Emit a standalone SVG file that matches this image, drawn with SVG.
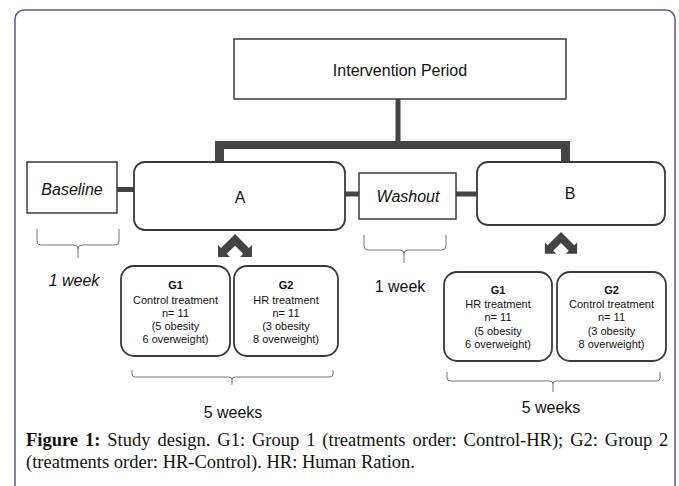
<svg xmlns="http://www.w3.org/2000/svg" width="679" height="486" viewBox="0 0 679 486">
<defs>
<style>
.box{fill:#fff;stroke:#3a3a3a;stroke-width:1.5}
.rbox{fill:#fff;stroke:#3a3a3a;stroke-width:1.8}
.t{font-family:"Liberation Sans",Arial,sans-serif;fill:#111;text-anchor:middle}
.big{font-size:16px}
.it{font-style:italic}
.sm{font-size:11px}
.b{font-weight:bold}
.conn{stroke:#444;fill:none;stroke-linecap:butt}
.brace{stroke:#777;stroke-width:1;fill:none}
.cap{font-family:"Liberation Serif","Times New Roman",serif;font-size:18.5px;fill:#111}
</style>
<polygon id="dbl" points="0,0 14,14 17,11 17,23 5,23 8.2,19.8 0,11.7 -8.2,19.8 -5,23 -17,23 -17,11 -14,14" fill="#444"/>
</defs>
<rect x="15" y="10" width="660" height="500" rx="9" ry="9" fill="#fff" stroke="#5b55a0" stroke-width="1.5"/>

<g id="connectors">
<line class="conn" x1="398" y1="99" x2="398" y2="141" stroke-width="5"/>
<line class="conn" x1="215" y1="145" x2="570" y2="145" stroke-width="8"/>
<line class="conn" x1="219.5" y1="141" x2="219.5" y2="162" stroke-width="9"/>
<line class="conn" x1="565.5" y1="141" x2="565.5" y2="162" stroke-width="9"/>
<line class="conn" x1="117" y1="189.5" x2="134" y2="189.5" stroke-width="5"/>
<line class="conn" x1="345" y1="194" x2="359" y2="194" stroke-width="5"/>
<line class="conn" x1="456" y1="194" x2="477" y2="194" stroke-width="5"/>
<use href="#dbl" transform="translate(235,234)"/>
<use href="#dbl" transform="translate(561,232) scale(0.95)"/>
</g>

<g id="intervention">
<rect class="box" x="234" y="39" width="332" height="60"/>
<text class="t big" x="400" y="76">Intervention Period</text>
</g>

<g id="baseline">
<rect class="box" x="27" y="162" width="90" height="51"/>
<text class="t big it" x="72" y="195">Baseline</text>
</g>

<g id="A">
<rect class="rbox" x="134" y="162" width="211" height="68" rx="11" ry="11"/>
<text class="t big" x="240" y="203">A</text>
</g>

<g id="washout">
<rect class="box" x="359" y="173" width="97" height="46"/>
<text class="t big it" x="408" y="202">Washout</text>
</g>

<g id="B">
<rect class="rbox" x="477" y="162" width="188" height="63" rx="11" ry="11"/>
<text class="t big" x="570" y="199">B</text>
</g>

<g id="A-G1">
<rect class="rbox" x="121" y="266" width="109" height="90" rx="13" ry="13"/>
<text class="t sm b" x="175.5" y="289">G1</text>
<text class="t sm" x="175.5" y="303.5">Control treatment</text>
<text class="t sm" x="175.5" y="317">n= 11</text>
<text class="t sm" x="175.5" y="330">(5 obesity</text>
<text class="t sm" x="175.5" y="343">6 overweight)</text>
</g>

<g id="A-G2">
<rect class="rbox" x="234" y="266" width="104" height="90" rx="13" ry="13"/>
<text class="t sm b" x="286" y="289">G2</text>
<text class="t sm" x="286" y="303.5">HR treatment</text>
<text class="t sm" x="286" y="317">n= 11</text>
<text class="t sm" x="286" y="330">(3 obesity</text>
<text class="t sm" x="286" y="343">8 overweight)</text>
</g>

<g id="B-G1">
<rect class="rbox" x="444" y="272" width="108" height="89" rx="13" ry="13"/>
<text class="t sm b" x="498" y="294">G1</text>
<text class="t sm" x="498" y="307.5">HR treatment</text>
<text class="t sm" x="498" y="321">n= 11</text>
<text class="t sm" x="498" y="334.5">(5 obesity</text>
<text class="t sm" x="498" y="348">6 overweight)</text>
</g>

<g id="B-G2">
<rect class="rbox" x="557" y="272" width="109" height="89" rx="13" ry="13"/>
<text class="t sm b" x="611.5" y="294">G2</text>
<text class="t sm" x="611.5" y="307.5">Control treatment</text>
<text class="t sm" x="611.5" y="321">n= 11</text>
<text class="t sm" x="611.5" y="334.5">(3 obesity</text>
<text class="t sm" x="611.5" y="348">8 overweight)</text>
</g>

<g id="braces">
<path class="brace" d="M37,229 V241 Q37,245 41,245 H74 Q78,245 78,249 V258 M119,229 V241 Q119,245 115,245 H82 Q78,245 78,249"/>
<path class="brace" d="M364,235 V246 Q364,250 368,250 H400 Q404,250 404,254 V263 M446,235 V246 Q446,250 442,250 H408 Q404,250 404,254"/>
<path class="brace" d="M132,370 V374 Q132,377 135,377 H229 Q232,377 232,380 V385 M333,370 V374 Q333,377 330,377 H235 Q232,377 232,380"/>
<path class="brace" d="M447,372 V378 Q447,381 450,381 H550 Q553,381 553,384 V392 M660,372 V378 Q660,381 657,381 H556 Q553,381 553,384"/>
</g>

<g id="labels">
<text class="t big it" x="74" y="286">1 week</text>
<text class="t big" x="400" y="292">1 week</text>
<text class="t big" x="233" y="418">5 weeks</text>
<text class="t big" x="551" y="413">5 weeks</text>
</g>

<g id="caption">
<text class="cap" x="26" y="446" word-spacing="2.3"><tspan font-weight="bold">Figure 1:</tspan> Study design. G1: Group 1 (treatments order: Control-HR); G2: Group 2</text>
<text class="cap" x="26" y="468">(treatments order: HR-Control). HR: Human Ration.</text>
</g>
</svg>
